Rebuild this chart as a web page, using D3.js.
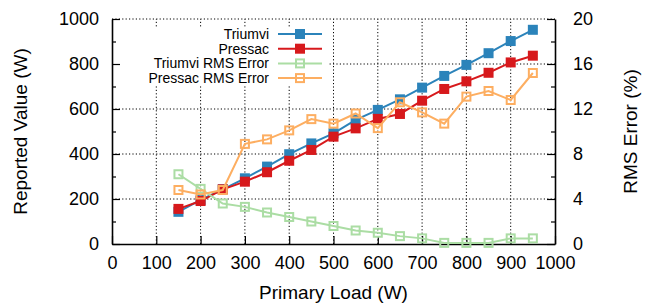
<!DOCTYPE html>
<html><head><meta charset="utf-8">
<script src="https://cdn.jsdelivr.net/npm/d3@7"></script>
<style>
body{margin:0;background:#fff}
svg{display:block}
</style>
</head><body><svg id="c" width="649" height="306"></svg>
<script>
// ---- data ----
const loads      = [150,200,250,300,350,400,450,500,550,600,650,700,750,800,850,900,950];
const triumvi    = [143,196,243,292,344,399,447,492,552,596,643,695,747,796,848,902,952];
const pressac    = [156,191,243,277,319,370,418,477,514,556,578,637,689,723,761,807,837];
const triumviRms = [6.2,4.9,3.6,3.3,2.8,2.4,2.0,1.6,1.2,1.0,0.7,0.5,0.1,0.1,0.1,0.5,0.5];
const pressacRms = [4.8,4.4,4.8,8.9,9.3,10.1,11.1,10.7,11.6,10.3,12.6,11.7,10.7,13.1,13.6,12.8,15.2];
const xTicks  = [0,100,200,300,400,500,600,700,800,900,1000];
const yTicks  = [0,200,400,600,800,1000];
const yMinor  = [100,300,500,700,900];
const y2Ticks = [0,4,8,12,16,20];
const y2Minor = [2,6,10,14,18];
const seriesNames = ["Triumvi","Pressac","Triumvi RMS Error","Pressac RMS Error"];
const xTitle = "Primary Load (W)", yTitle = "Reported Value (W)", y2Title = "RMS Error (%)";

// ---- layout ----
const W = 649, H = 306;
const m = {l:112, r:94, t:19, b:62};
const FONT = '"Liberation Sans", Arial, Helvetica, sans-serif';
const svg = d3.select("#c");
const x  = d3.scaleLinear().domain([0,1000]).range([m.l, W-m.r]);
const y  = d3.scaleLinear().domain([0,1000]).range([H-m.b, m.t]);
const y2 = d3.scaleLinear().domain([0,20]).range([H-m.b, m.t]);

// grid (dotted)
const grid = svg.append("g").attr("stroke","#000").attr("stroke-width",1).attr("stroke-dasharray","1.2,2.2");
grid.selectAll("line.v").data(xTicks.filter(d=>d>0 && d<1000)).join("line")
  .attr("x1",d=>x(d)).attr("x2",d=>x(d)).attr("y1",y(0)).attr("y2",y(1000));
grid.selectAll("line.h").data(yTicks.filter(d=>d>0)).join("line")
  .attr("x1",x(0)).attr("x2",x(1000)).attr("y1",d=>y(d)).attr("y2",d=>y(d));

// legend opaque box
svg.append("rect").attr("x",x(0)+1).attr("y",27).attr("width",329-x(0)-1).attr("height",59).attr("fill","#fff");

function styleAxis(g){
  g.attr("font-family",FONT).attr("font-size",18);
  g.selectAll(".domain").attr("stroke","#000").attr("stroke-width",1.6);
  g.selectAll(".tick line").attr("stroke","#000").attr("stroke-width",1.2);
  g.selectAll(".tick text").attr("fill","#000");
}
// axes
svg.append("g").attr("transform",`translate(0,${y(0)})`)
  .call(d3.axisBottom(x).tickValues(xTicks).tickSizeInner(-8).tickSizeOuter(0).tickPadding(12).tickFormat(d3.format("d")))
  .call(styleAxis);
svg.append("g").attr("transform",`translate(${x(0)},0)`)
  .call(d3.axisLeft(y).tickValues(yTicks).tickSizeInner(-8).tickSizeOuter(0).tickPadding(13).tickFormat(d3.format("d")))
  .call(styleAxis);
svg.append("g").attr("transform",`translate(${x(0)},0)`)
  .call(d3.axisLeft(y).tickValues(yMinor).tickSizeInner(-4).tickSizeOuter(0).tickFormat(""))
  .call(styleAxis).call(g=>g.select(".domain").remove());
svg.append("g").attr("transform",`translate(${x(1000)},0)`)
  .call(d3.axisRight(y2).tickValues(y2Ticks).tickSizeInner(-8).tickSizeOuter(0).tickPadding(18).tickFormat(d3.format("d")))
  .call(styleAxis);
svg.append("g").attr("transform",`translate(${x(1000)},0)`)
  .call(d3.axisRight(y2).tickValues(y2Minor).tickSizeInner(-4).tickSizeOuter(0).tickFormat(""))
  .call(styleAxis).call(g=>g.select(".domain").remove());

// titles
svg.append("text").attr("x",(x(0)+x(1000))/2).attr("y",299).attr("text-anchor","middle")
  .attr("font-family",FONT).attr("font-size",19).text(xTitle);
svg.append("text").attr("transform",`translate(27,${(y(0)+y(1000))/2}) rotate(-90)`).attr("text-anchor","middle")
  .attr("font-family",FONT).attr("font-size",19).text(yTitle);
svg.append("text").attr("transform",`translate(637,${(y(0)+y(1000))/2}) rotate(-90)`).attr("text-anchor","middle")
  .attr("font-family",FONT).attr("font-size",19).text(y2Title);

// series
const series = [
  {name:seriesNames[0], vals:triumvi,    sc:y,  color:"#2b83ba", filled:true},
  {name:seriesNames[1], vals:pressac,    sc:y,  color:"#d7191c", filled:true},
  {name:seriesNames[2], vals:triumviRms, sc:y2, color:"#abdda4", filled:false},
  {name:seriesNames[3], vals:pressacRms, sc:y2, color:"#fdae61", filled:false}
];
function marker(g, cx, cy, s){
  if (s.filled) {
    g.append("rect").attr("x",cx-5).attr("y",cy-5).attr("width",10).attr("height",10).attr("fill",s.color);
  } else {
    g.append("rect").attr("x",cx-4).attr("y",cy-4).attr("width",8).attr("height",8)
      .attr("fill","none").attr("stroke",s.color).attr("stroke-width",2);
  }
}
series.forEach(s=>{
  const g = svg.append("g");
  const line = d3.line().x((d,i)=>x(loads[i])).y(d=>s.sc(d));
  g.append("path").attr("d",line(s.vals)).attr("fill","none").attr("stroke",s.color).attr("stroke-width",2);
  s.vals.forEach((v,i)=>marker(g, x(loads[i]), s.sc(v), s));
});

// legend
series.forEach((s,i)=>{
  const cy = 34 + i*14.7;
  svg.append("text").attr("x",269).attr("y",cy).attr("dy","0.35em").attr("text-anchor","end")
    .attr("font-family",FONT).attr("font-size",14).text(s.name);
  const g = svg.append("g");
  g.append("line").attr("x1",278).attr("x2",322).attr("y1",cy).attr("y2",cy).attr("stroke",s.color).attr("stroke-width",2);
  marker(g, 300, cy, s);
});
</script></body></html>
